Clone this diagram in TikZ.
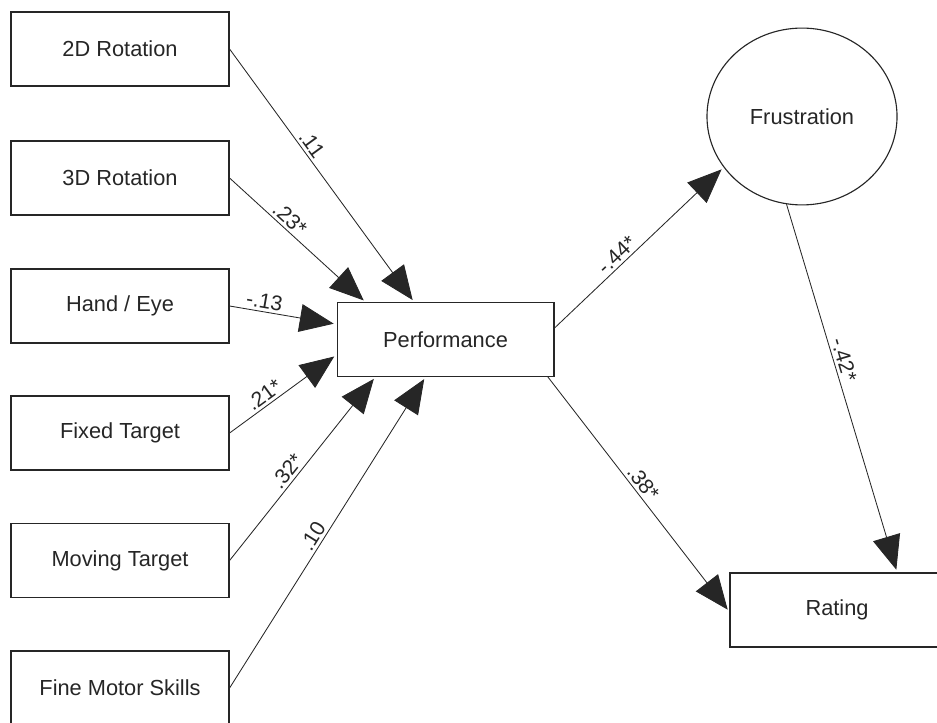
\documentclass[tikz,border=0pt]{standalone}
\usepackage{fontspec}
\setmainfont{Liberation Sans}
\usepackage{xcolor}
\usepackage{tikz}
\usetikzlibrary{arrows.meta}
\usetikzlibrary{shapes.geometric}

\begin{document}
\begin{tikzpicture}[x=0.025cm, y=-0.025cm, >={Triangle[length=0.85cm,width=0.7cm]},
  var/.style ={rectangle,draw,black!85,line width=0.8pt,minimum width=5.45cm,minimum height=1.85cm,text=black!85,font=\fontsize{15.5}{18}\selectfont},
  latent/.style ={ellipse,draw,black!85,line width=0.8pt,minimum width=4.75cm,minimum height=4.42cm,text=black!85,font=\fontsize{15.5}{18}\selectfont},
  path/.style ={->,black!85,line width=0.6pt,shorten >=2pt},
  coef/.style ={above,sloped,inner sep=2pt,text=black!85,font=\fontsize{15}{17}\selectfont}]
\clip (0,0) rectangle (937,722);
% predictors
\node[var] (rot2) at (120,49) {2D Rotation};
\node[var] (rot3) at (120,178) {3D Rotation};
\node[var] (hand) at (120,306) {Hand / Eye};
\node[var] (fixed) at (120,433) {Fixed Target};
\node[var] (moving) at (120,560.5) {Moving Target};
\node[var] (fine) at (120,688) {Fine Motor Skills};
% outcomes
\node[var, minimum width=5.42cm, minimum height=1.83cm] (perf) at (445.5,339.5) {Performance};
\node[latent] (frus) at (802,116.5) {Frustration};
\node[var, minimum width=5.35cm] (rating) at (837,610) {Rating};
% paths
\draw[path] (rot2.east) -- node[coef,pos=0.40] {.11} (perf.130);
\draw[path] (rot3.east) -- node[coef,pos=0.39] {.23*} (perf.155);
\draw[path] (hand.east) -- node[coef,pos=0.31] {-.13} (perf.172);
\draw[path] (fixed.east) -- node[coef,pos=0.38] {.21*} (perf.188);
\draw[path] (moving.east) -- node[coef,pos=0.45] {.32*} (perf.208);
\draw[path] (fine.east) -- node[coef,pos=0.47] {.10} (perf.242);
\draw[path] (perf.6) -- node[coef,pos=0.41] {-.44*} (frus.213);
\draw[path] (perf.340) -- node[coef,pos=0.48] {.38*} (rating.181);
\draw[path] (frus.260) -- node[coef,pos=0.43] {-.42*} (rating.32);
\end{tikzpicture}
\end{document}
